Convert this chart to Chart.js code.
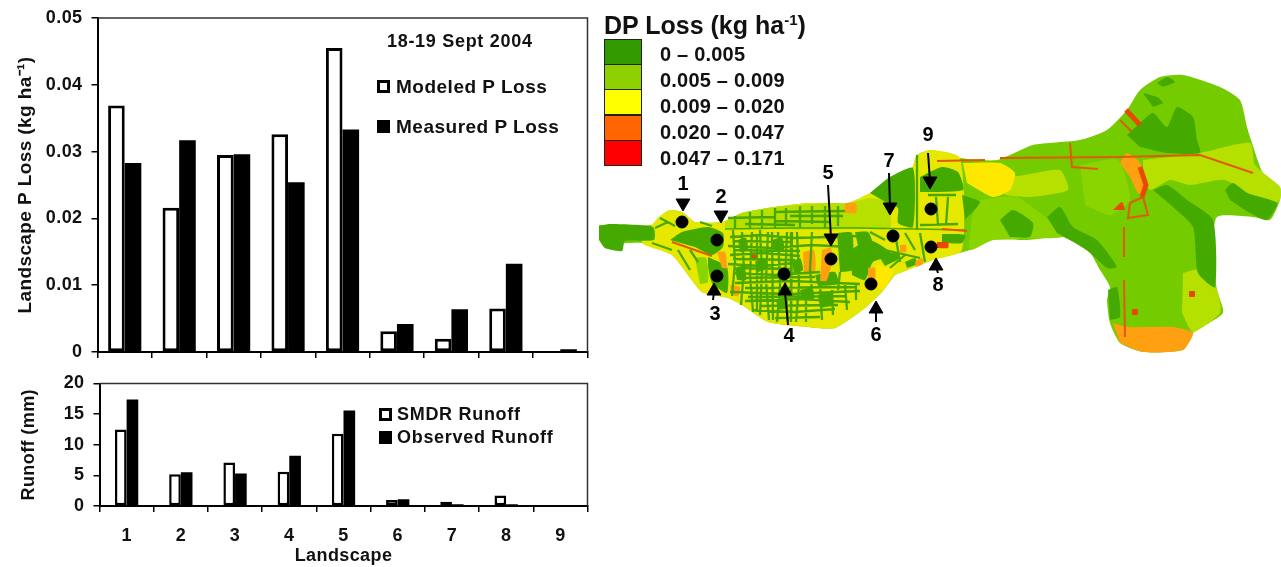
<!DOCTYPE html>
<html>
<head>
<meta charset="utf-8">
<script src="https://cdn.jsdelivr.net/npm/chart.js@4/dist/chart.umd.min.js"></script>
<style>
  html, body { margin: 0; padding: 0; background: #fff; }
  body { position: relative; width: 1281px; height: 567px; overflow: hidden; font-family: "Liberation Sans", Arial, sans-serif; font-weight: bold; color: #111; }
  canvas { position: absolute; }
  #lossChart { left: 0; top: 0; }
  #runoffChart { left: 0; top: 368px; }
  #mapChart { left: 595px; top: 40px; filter: blur(0.6px); }
  .txt { position: absolute; white-space: nowrap; line-height: 1; }
  .key { position: absolute; box-sizing: border-box; width: 13px; height: 13px; border: 3px solid #000; background: #fff; }
  .key.dark { background: #000; }
  .swatch { position: absolute; left: 604px; width: 38px; height: 26px; box-sizing: border-box; border: 1.5px solid #222; }
  .range { font-size: 20px; left: 660px; letter-spacing: 0.2px; }
  sup { font-size: 60%; line-height: 0; }
</style>
</head>
<body>
<canvas id="lossChart" width="596" height="365"></canvas>
<canvas id="runoffChart" width="596" height="199"></canvas>
<canvas id="mapChart" width="686" height="320"></canvas>

<div class="txt" style="left:387px;top:32px;font-size:18px;letter-spacing:0.7px">18-19 Sept 2004</div>
<div class="key" style="left:377px;top:80px"></div>
<div class="txt" style="left:396px;top:77px;font-size:19px;letter-spacing:0.5px">Modeled P Loss</div>
<div class="key dark" style="left:377px;top:120px"></div>
<div class="txt" style="left:396px;top:117px;font-size:19px;letter-spacing:0.5px">Measured P Loss</div>
<div class="key" style="left:379px;top:408px"></div>
<div class="txt" style="left:397px;top:405px;font-size:18px;letter-spacing:0.7px">SMDR Runoff</div>
<div class="key dark" style="left:379px;top:431px"></div>
<div class="txt" style="left:397px;top:428px;font-size:18px;letter-spacing:0.7px">Observed Runoff</div>

<div class="txt" style="left:604px;top:13px;font-size:25px">DP Loss (kg ha<sup>-1</sup>)</div>
<div id="mapLegend"></div>

<script>
// values
const landscapes = ['1', '2', '3', '4', '5', '6', '7', '8', '9'];
const modeledLoss = [0.0369, 0.0216, 0.0295, 0.0326, 0.0455, 0.0031, 0.0020, 0.0065, 0];
const measuredLoss = [0.0283, 0.0317, 0.0296, 0.0254, 0.0333, 0.0042, 0.0064, 0.0132, 0.0004];
const smdrRunoff = [12.5, 5.2, 7.1, 5.6, 11.8, 1.0, 0.7, 1.7, 0];
const observedRunoff = [17.4, 5.5, 5.3, 8.2, 15.6, 1.1, 0.3, 0.3, 0];

const legendRanges = ['0 – 0.005', '0.005 – 0.009', '0.009 – 0.020', '0.020 – 0.047', '0.047 – 0.171'];
const legendColors = ['#339900', '#8fd000', '#ffff00', '#ff6600', '#ff0000'];

// map shapes, in map units
const mapOutline = [[599,225],[652,225],[658,218],[670,210],[682,212],[695,222],[722,222],[742,213],[775,207],[808,203],[848,203],[872,192],[895,177],[912,168],[917,155],[932,150],[960,158],[997,160],[1033,145],[1080,140],[1107,130],[1127,110],[1140,90],[1160,77],[1183,75],[1220,87],[1240,100],[1247,127],[1252,143],[1263,173],[1280,187],[1280,200],[1270,220],[1253,217],[1217,217],[1213,253],[1217,290],[1223,313],[1193,333],[1183,350],[1143,352],[1120,343],[1110,323],[1107,300],[1110,287],[1100,270],[1090,253],[1063,237],[1027,240],[993,240],[970,250],[933,260],[900,273],[895,275],[882,292],[865,308],[835,328],[808,327],[768,322],[742,305],[728,298],[702,292],[688,275],[672,255],[642,243],[605,243],[599,225]];
const urbanArea = [[652,225],[658,218],[670,210],[682,212],[695,222],[722,222],[742,213],[775,207],[808,203],[848,203],[872,192],[895,177],[912,168],[917,155],[932,150],[960,158],[962,250],[933,260],[900,273],[895,275],[882,292],[865,308],[835,328],[808,327],[768,322],[742,305],[728,298],[702,292],[688,275],[672,255],[642,243],[652,225]];
const limeBlocks = [
  [[725,222],[742,213],[775,207],[845,204],[845,228],[725,228]],
  [[845,205],[870,198],[887,203],[890,228],[845,228]],
  [[1143,160],[1200,153],[1250,143],[1255,165],[1280,187],[1280,200],[1268,205],[1225,180],[1190,185],[1170,180],[1150,190],[1143,175]],
  [[1183,273],[1197,270],[1217,290],[1220,313],[1193,332],[1182,313]],
  [[1000,175],[1018,176],[1060,170],[1068,190],[1030,197],[1005,195]],
];
const softGreenBlocks = [
  [[980,200],[1017,197],[1057,227],[1063,237],[993,240],[970,250],[972,217]],
  [[695,258],[706,258],[708,282],[700,284]],
  [[1080,165],[1118,160],[1130,200],[1110,215],[1085,205]],
];
const darkBlocks = [
  [[599,226],[610,224],[653,227],[654,240],[625,241],[622,251],[605,248],[599,240]],
  [[670,240],[682,232],[708,227],[723,233],[723,247],[712,255],[695,247]],
  [[708,257],[727,267],[727,293],[712,283],[708,267]],
  [[870,193],[890,177],[913,168],[913,227],[898,223],[898,208],[887,203]],
  [[920,177],[942,167],[958,172],[963,190],[920,192]],
  [[962,195],[980,202],[965,220]],
  [[942,234],[965,235],[962,243],[942,243]],
  [[837,233],[852,233],[852,270],[840,272]],
  [[850,250],[870,240],[893,255],[873,262],[865,280],[852,275]],
  [[1127,135],[1140,123],[1153,113],[1167,127],[1177,107],[1193,117],[1197,140],[1200,153],[1167,153],[1140,147]],
  [[1157,83],[1167,77],[1175,82],[1163,87]],
  [[1143,93],[1157,97],[1163,103],[1153,107]],
  [[1225,190],[1233,183],[1247,193],[1277,203],[1267,220],[1250,213],[1230,200]],
  [[1153,190],[1167,185],[1187,200],[1213,220],[1215,287],[1198,273],[1193,227],[1173,207]],
  [[1047,217],[1060,207],[1073,227],[1097,240],[1117,267],[1107,268],[1087,250],[1057,233]],
  [[1000,220],[1013,210],[1033,223],[1030,237],[1010,237]],
  [[1108,290],[1117,287],[1120,317],[1110,320]],
  // blotches in the built-up part
  [[755,262],[764,258],[768,268],[758,272]],
  [[772,240],[782,238],[784,250],[774,252]],
  [[792,262],[800,258],[803,270],[794,274]],
  [[738,240],[746,238],[748,250],[740,252]],
  [[735,268],[744,266],[746,280],[737,280]],
  [[800,290],[812,288],[814,298],[802,300]],
  [[776,300],[786,298],[788,308],[778,310]],
  [[818,295],[830,292],[832,305],[820,308]],
  [[905,262],[915,258],[917,264],[907,268]],
  [[815,275],[835,272],[838,284],[818,286]],
  [[855,232],[868,232],[872,242],[858,246]],
  [[880,258],[895,252],[900,258],[885,266]],
];
const yellowBlocks = [
  [[963,163],[1000,163],[1015,173],[1010,190],[993,197],[967,183]],
  [[877,265],[893,270],[883,290],[873,283]],
];
const orangeBlocks = [
  [[1113,323],[1127,327],[1173,327],[1193,333],[1183,350],[1143,352],[1120,343]],
  [[1120,163],[1127,153],[1140,163],[1145,193],[1138,193],[1130,177]],
  [[717,252],[725,252],[727,268],[722,268]],
  [[803,252],[814,250],[815,272],[804,275]],
  [[822,250],[831,248],[832,262],[826,282],[820,282]],
  [[845,203],[856,203],[856,213],[845,213]],
  [[868,268],[875,268],[875,280],[868,280]],
  [[730,285],[740,287],[738,296],[731,295]],
  [[900,245],[906,245],[906,252],[900,252]],
  [[915,262],[922,258],[923,264],[916,267]],
];
const redBlocks = [
  [[1113,210],[1122,202],[1125,210]],
  [[937,242],[948,242],[948,248],[937,248]],
  [[751,254],[756,254],[756,260],[751,260]],
];
// null splits one line from the next
const streets = [
  [728,218],[775,217],null,[775,212],[845,211],null,[745,224],[795,225],null,[775,221],[830,222],null,[790,216],[843,216],null,
  [735,216],[735,228],null,[750,212],[750,228],null,[762,210],[762,228],null,[775,208],[775,228],null,[786,208],[786,226],null,
  [800,206],[800,228],null,[812,206],[812,224],null,[825,206],[825,228],null,[838,206],[838,226],null,
  [730,237],[760,235],[795,238],[860,236],null,[728,246],[770,248],[812,245],[850,247],null,[730,255],[762,253],[800,256],null,
  [728,264],[760,266],[795,263],null,[735,273],[775,275],[820,272],null,[735,283],[790,281],[860,284],null,[730,292],[790,294],[860,291],null,
  [745,301],[800,299],[850,302],null,[752,310],[795,312],[835,309],null,[775,318],[820,317],null,
  [733,230],[735,262],[732,296],null,[742,232],[744,270],[741,305],null,[752,232],[750,275],[753,312],null,[760,230],[762,270],[760,315],null,
  [768,232],[766,280],[769,320],null,[778,232],[780,285],[777,322],null,[787,232],[785,280],[788,322],null,[797,232],[799,285],[796,322],null,
  [812,232],[810,270],[813,300],null,[840,272],[838,290],null,[820,285],[822,320],null,[845,285],[847,310],null,
  [733,241],[790,242],null,[735,250],[800,251],null,[733,259],[795,260],null,[737,268],[792,269],null,[740,278],[815,277],null,[745,288],[855,287],null,[748,297],[845,296],null,[760,306],[838,305],null,
  [806,295],[806,322],null,[832,290],[833,315],null,[856,285],[856,300],null,[772,232],[773,320],null,[757,235],[757,312],null,[792,232],[791,322],null,
  [860,235],[880,255],null,[885,250],[920,258],null,[895,233],[900,262],null,[905,233],[915,250],null,[920,233],[925,262],null,[870,232],[885,240],null,[905,255],[890,268],null,
  [655,228],[668,222],null,[660,218],[675,226],null,[652,243],[672,250],null,[678,250],[690,270],null,[690,250],[698,262],null,[700,222],[712,226],null,
  [917,155],[917,230],null,[928,195],[956,195],null,[936,197],[938,225],null,[948,197],[946,225],null,[920,225],[958,224],null,
];
const dividerLine = [[725,229],[790,228],[860,228],[918,229],[965,230]];
const redRoads = [
  [1000,158],[1120,157],[1200,155],[1253,173],null,[1070,143],[1072,167],[1098,169],null,[1124,227],[1124,257],null,[1124,280],[1125,337],null,
  [1130,203],[1143,197],[1148,215],[1128,218],[1130,203],null,[1120,120],[1132,132],null,
  [937,161],[985,160],null,[942,229],[967,231],null,[672,242],[712,256],null,
];
const thickRed = [[1126,110],[1140,125],null,[1140,167],[1146,185],[1142,197]];
const redSpots = [[1135,312],[1192,294]];
const sites = [[682,222],[717,240],[717,276],[784,274],[831,259],[871,284],[893,236],[931,247],[931,209]];
const arrowShafts = [[713,300],[714,292],null,[788,325],[785,292],null,[828,185],[831,238],null,[876,322],[876,309],null,[889,173],[890,207],null,[938,273],[936,267],null,[928,153],[930,181]];
const arrowDown = [[683,203],[721,215],[831,238],[890,207],[930,181]];
const arrowUp = [[714,291],[785,291],[876,309],[936,266]];
const siteLabels = [[683,184],[721,197],[715,314],[789,336],[828,173],[876,335],[889,161],[938,285],[928,135]];

const tickFont = { family: '"Liberation Sans", Arial, sans-serif', size: 18, weight: 'bold' };
const ink = '#111';

// top and right edge of the plot, plus slightly wider glyph spacing like the original
const framePlugin = {
  id: 'frame',
  beforeLayout(chart) { chart.ctx.letterSpacing = '0.4px'; },
  beforeDraw(chart) { chart.ctx.letterSpacing = '0.4px'; },
  afterDraw(chart) {
    const { left, right, top, bottom } = chart.chartArea;
    const ctx = chart.ctx;
    ctx.save();
    ctx.strokeStyle = '#333';
    ctx.lineWidth = 1.5;
    ctx.beginPath();
    ctx.moveTo(left, top);
    ctx.lineTo(right, top);
    ctx.lineTo(right, bottom);
    ctx.stroke();
    ctx.restore();
  }
};

function barChart(id, opts) {
  return new Chart(document.getElementById(id), {
    type: 'bar',
    data: {
      labels: landscapes,
      datasets: [
        { label: opts.names[0], data: opts.series[0], backgroundColor: '#fff', borderColor: '#000', borderWidth: opts.border, borderSkipped: false },
        { label: opts.names[1], data: opts.series[1], backgroundColor: '#000', borderColor: '#000', borderWidth: 0 },
      ],
    },
    plugins: [framePlugin],
    options: {
      responsive: false,
      maintainAspectRatio: false,
      animation: false,
      datasets: { bar: { categoryPercentage: opts.groupWidth, barPercentage: 1 } },
      layout: { padding: opts.padding, autoPadding: false },
      plugins: { legend: { display: false }, tooltip: { enabled: false } },
      scales: {
        x: {
          offset: true,
          grid: { offset: true, drawOnChartArea: false, color: '#000', lineWidth: 1.5, tickLength: 6 },
          border: { color: '#000', width: 2 },
          ticks: { display: opts.showX, font: tickFont, color: ink, padding: 13, maxRotation: 0, autoSkip: false },
          title: { display: opts.showX, text: 'Landscape', font: tickFont, color: ink, padding: { top: 4, bottom: 0 } },
          afterFit(scale) { scale.height = opts.xHeight; },
        },
        y: {
          min: 0,
          max: opts.max,
          grid: { drawOnChartArea: false, color: '#000', lineWidth: 1.5, tickLength: 6 },
          border: { color: '#000', width: 2 },
          ticks: { stepSize: opts.step, font: tickFont, color: ink, padding: 9, callback: opts.tick },
          title: { display: true, text: opts.yTitle, font: { ...tickFont, size: opts.yTitleSize }, color: ink, padding: 0 },
          // tick label overflow must not push the plot edges in
          afterFit(scale) {
            scale.width = opts.yWidth;
            scale.paddingTop = 0;
            scale.paddingBottom = 0;
          },
        },
      },
    },
  });
}

barChart('lossChart', {
  names: ['Modeled P Loss', 'Measured P Loss'],
  series: [modeledLoss, measuredLoss],
  border: 3,
  groupWidth: 0.61,
  padding: { top: 18, right: 8.5, left: 14, bottom: 0 },
  showX: false,
  xHeight: 13,
  yWidth: 83.5,
  max: 0.05,
  step: 0.01,
  tick: v => (v === 0 ? '0' : v.toFixed(2)),
  yTitle: 'Landscape P Loss (kg ha⁻¹)',
  yTitleSize: 19,
});

barChart('runoffChart', {
  names: ['SMDR Runoff', 'Observed Runoff'],
  series: [smdrRunoff, observedRunoff],
  border: 2.5,
  groupWidth: 0.43,
  padding: { top: 15.5, right: 8.5, left: 18, bottom: 0 },
  showX: true,
  xHeight: 61,
  yWidth: 81.5,
  max: 20,
  step: 5,
  tick: v => v,
  yTitle: 'Runoff (mm)',
  yTitleSize: 18,
});

// map drawn as filled shapes on a hidden scale
const toPoints = list => list.map(p => (p ? { x: p[0], y: p[1] } : { x: NaN, y: NaN }));
const shape = (list, color) => ({ type: 'scatter', data: toPoints(list), showLine: true, fill: 'shape', backgroundColor: color, borderColor: color, borderWidth: 0, pointRadius: 0, tension: 0.2 });
const stroke = (list, color, width) => ({ type: 'scatter', data: toPoints(list), showLine: true, fill: false, borderColor: color, borderWidth: width, pointRadius: 0, spanGaps: false });
const marks = (list, color, radius, style, rotation) => ({ type: 'scatter', data: toPoints(list), showLine: false, backgroundColor: color, borderColor: color, pointRadius: radius, pointStyle: style, rotation: rotation });

const layers = [
  shape(mapOutline, '#74cb00'),
  shape(urbanArea, '#e6e800'),
  ...limeBlocks.map(b => shape(b, '#b6e000')),
  ...softGreenBlocks.map(b => shape(b, '#8ad400')),
  ...darkBlocks.map(b => shape(b, '#45aa00')),
  ...yellowBlocks.map(b => shape(b, '#ffe800')),
  ...orangeBlocks.map(b => shape(b, '#ffa010')),
  ...redBlocks.map(b => shape(b, '#e84800')),
  stroke(streets, '#48a800', 2.3),
  stroke(dividerLine, '#47ab00', 1.5),
  stroke(redRoads, '#e25a00', 2),
  stroke(thickRed, '#e84800', 5),
  marks(redSpots, '#e84800', 3.5, 'rect', 0),
  marks(sites, '#000', 6, 'circle', 0),
  stroke(arrowShafts, '#000', 2),
  marks(arrowDown, '#000', 8, 'triangle', 180),
  marks(arrowUp, '#000', 8, 'triangle', 0),
];
layers.forEach((l, i) => { l.order = layers.length - i; });

const siteLabelPlugin = {
  id: 'siteLabels',
  afterDatasetsDraw(chart) {
    const ctx = chart.ctx;
    ctx.save();
    ctx.font = 'bold 20px "Liberation Sans", Arial, sans-serif';
    ctx.fillStyle = '#000';
    ctx.textAlign = 'center';
    ctx.textBaseline = 'middle';
    siteLabels.forEach((p, i) => {
      ctx.fillText(landscapes[i], chart.scales.x.getPixelForValue(p[0]), chart.scales.y.getPixelForValue(p[1]));
    });
    ctx.restore();
  }
};

new Chart(document.getElementById('mapChart'), {
  type: 'scatter',
  data: { datasets: layers },
  plugins: [siteLabelPlugin],
  options: {
    responsive: false,
    maintainAspectRatio: false,
    animation: false,
    layout: { padding: 0, autoPadding: false },
    plugins: { legend: { display: false }, tooltip: { enabled: false } },
    scales: {
      x: { type: 'linear', display: false, min: 595, max: 1281 },
      y: { type: 'linear', display: false, min: 40, max: 360, reverse: true },
    },
  },
});

// colour key for the map
const mapLegend = document.getElementById('mapLegend');
legendRanges.forEach((text, i) => {
  const swatchTop = 39 + i * 25.2;
  const textTop = 43.5 + i * 26;
  mapLegend.insertAdjacentHTML('beforeend',
    '<div class="swatch" style="top:' + swatchTop + 'px;background:' + legendColors[i] + '"></div>' +
    '<div class="txt range" style="top:' + textTop + 'px">' + text + '</div>');
});
</script>
</body>
</html>
